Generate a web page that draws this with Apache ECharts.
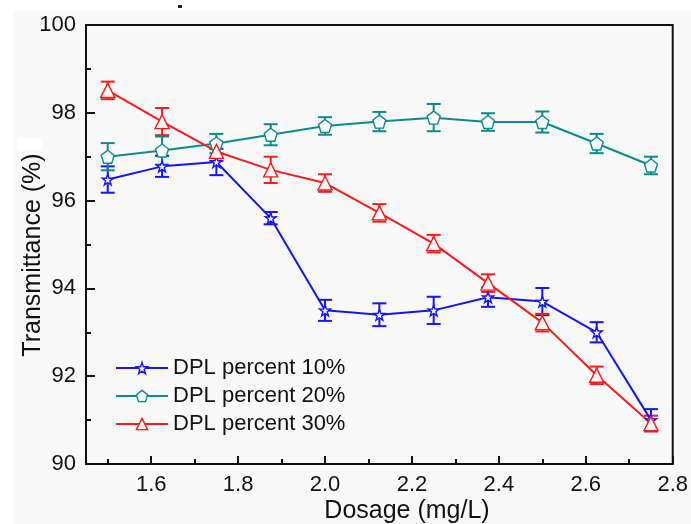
<!DOCTYPE html>
<html>
<head>
<meta charset="utf-8">
<script src="https://cdn.jsdelivr.net/npm/echarts@6/dist/echarts.min.js"></script>
<style>html,body{margin:0;padding:0;background:#fff;}#c{width:691px;height:524px;}</style>
</head>
<body>
<div id="c"></div>
<script>
const dosage = [1.5, 1.625, 1.75, 1.875, 2.0, 2.125, 2.25, 2.375, 2.5, 2.625, 2.75];
const t10 = [96.48, 96.78, 96.88, 95.6, 93.5, 93.4, 93.5, 93.8, 93.7, 93.0, 91.0];
const e10 = [0.3, 0.24, 0.3, 0.14, 0.24, 0.26, 0.31, 0.22, 0.31, 0.23, 0.25];
const t20 = [97.0, 97.14, 97.3, 97.5, 97.7, 97.8, 97.89, 97.79, 97.79, 97.3, 96.8];
const e20 = [0.31, 0.32, 0.22, 0.24, 0.2, 0.22, 0.31, 0.2, 0.24, 0.22, 0.2];
const t30 = [98.51, 97.8, 97.12, 96.7, 96.4, 95.72, 95.02, 94.12, 93.22, 92.02, 90.92];
const e30 = [0.2, 0.31, 0.22, 0.3, 0.2, 0.2, 0.2, 0.2, 0.2, 0.2, 0.18];
const names = ['DPL percent 10%', 'DPL percent 20%', 'DPL percent 30%'];
const xMajor = [1.6, 1.8, 2.0, 2.2, 2.4, 2.6, 2.8];
const xMinor = [1.5, 1.7, 1.9, 2.1, 2.3, 2.5, 2.7];

const colors = ['#1414ff', '#0b8b8b', '#ff1a1a'];
const FONT = 'Liberation Sans, Arial, sans-serif';
const starPath = 'path://M50,0 L61.8,35.1 L97.6,34.5 L69,56.4 L79.4,90.5 L50,70 L20.6,90.5 L31,56.4 L2.4,34.5 L38.2,35.1 Z';
const pentPath = 'path://M50,0 L97.6,34.5 L79.4,90.5 L20.6,90.5 L2.4,34.5 Z';
const symbols = [starPath, pentPath, 'triangle'];
const sizes = [11, 13, 14];
const vals = [t10, t20, t30];
const errs = [e10, e20, e30];

function errData(v, e) {
  return dosage.map((x, i) => [x, v[i] - e[i], v[i] + e[i]]);
}
function errRender(color) {
  return function (params, api) {
    const x = api.value(0), lo = api.value(1), hi = api.value(2);
    const a = api.coord([x, hi]), b = api.coord([x, lo]);
    const hw = 7;
    const st = { stroke: color, lineWidth: 2 };
    return {
      type: 'group',
      children: [
        { type: 'line', shape: { x1: a[0], y1: a[1], x2: b[0], y2: b[1] }, style: st },
        { type: 'line', shape: { x1: a[0] - hw, y1: a[1], x2: a[0] + hw, y2: a[1] }, style: st },
        { type: 'line', shape: { x1: b[0] - hw, y1: b[1], x2: b[0] + hw, y2: b[1] }, style: st }
      ]
    };
  };
}

const series = [];
for (let k = 0; k < 3; k++) {
  series.push({
    type: 'custom',
    name: 'err' + k,
    renderItem: errRender(colors[k]),
    data: errData(vals[k], errs[k]),
    encode: { x: 0, y: [1, 2] },
    z: 2,
    silent: true
  });
}
for (let k = 0; k < 3; k++) {
  series.push({
    type: 'line',
    name: names[k],
    data: dosage.map((x, i) => [x, vals[k][i]]),
    color: colors[k],
    symbol: symbols[k],
    symbolSize: sizes[k],
    showAllSymbol: true,
    lineStyle: { color: colors[k], width: 2 },
    itemStyle: { color: '#fdfdfd', borderColor: colors[k], borderWidth: 1.4 },
    z: 3,
    animation: false
  });
}

const chart = echarts.init(document.getElementById('c'));
chart.setOption({
  animation: false,
  backgroundColor: '#ffffff',
  graphic: [
    { type: 'rect', z: -10, shape: { x: 13, y: 11, width: 678, height: 513 }, style: { fill: '#f9f9f9' } },
    { type: 'rect', z: -9, shape: { x: 17, y: 138, width: 25, height: 12 }, style: { fill: '#ffffff' } },
    { type: 'rect', z: -9, shape: { x: 178, y: 5, width: 4, height: 3 }, style: { fill: '#222' } },
    { type: 'text', x: 33, y: 255, rotation: Math.PI / 2,
      style: { text: 'Transmittance (%)', fontSize: 25, fontFamily: FONT, fill: '#111', align: 'center', verticalAlign: 'middle', textAlign: 'center', textVerticalAlign: 'middle' } },
    { type: 'text', x: 407, y: 511,
      style: { text: 'Dosage (mg/L)', fontSize: 25, fontFamily: FONT, fill: '#111', align: 'center', verticalAlign: 'middle', textAlign: 'center', textVerticalAlign: 'middle' } }
  ],
  grid: { left: 86, right: 16, top: 25, bottom: 60, show: true, borderColor: '#111', borderWidth: 2, backgroundColor: 'transparent' },
  legend: {
    data: names,
    orient: 'vertical',
    left: 110,
    top: 352,
    itemWidth: 52,
    itemHeight: 14,
    itemGap: 6,
    itemStyle: { color: '#fdfdfd', borderColor: 'inherit', borderWidth: 1.4 },
    textStyle: { fontSize: 22, fontFamily: FONT, color: '#111' }
  },
  xAxis: [
    {
      type: 'value', min: 1.45, max: 2.8,
      splitLine: { show: false },
      axisLine: { lineStyle: { color: '#111', width: 2 } },
      axisTick: { inside: true, length: 8, lineStyle: { color: '#111', width: 2 }, customValues: xMajor },
      axisLabel: { fontSize: 22, fontFamily: FONT, color: '#111', margin: 10, customValues: xMajor, formatter: v => v.toFixed(1) }
    },
    {
      type: 'value', min: 1.45, max: 2.8, position: 'bottom',
      splitLine: { show: false },
      axisLine: { show: false },
      axisTick: { inside: true, length: 5, lineStyle: { color: '#111', width: 2 }, customValues: xMinor },
      axisLabel: { show: false, customValues: xMinor }
    }
  ],
  yAxis: {
    type: 'value', min: 90, max: 100, interval: 2,
    splitLine: { show: false },
    axisLine: { lineStyle: { color: '#111', width: 2 } },
    axisTick: { inside: true, length: 9, lineStyle: { color: '#111', width: 2 } },
    minorTick: { show: true, splitNumber: 2, length: 5, lineStyle: { color: '#111', width: 2 } },
    axisLabel: { fontSize: 22, fontFamily: FONT, color: '#111', margin: 10 }
  },
  series: series
});
</script>
</body>
</html>
